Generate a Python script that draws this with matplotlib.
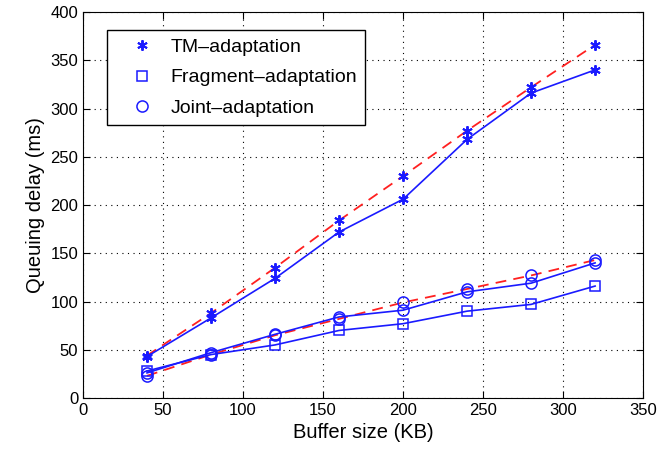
import matplotlib
matplotlib.use("Agg")
import matplotlib.pyplot as plt

buffer_kb = [40, 80, 120, 160, 200, 240, 280, 320]
tm_sim = [43, 83, 124, 172, 206, 268, 316, 340]
tm_model = [44, 88, 135, 184, 230, 277, 322, 366]
frag_sim = [28, 45, 55, 70, 77, 90, 97, 116]
joint_sim = [26, 47, 66, 84, 91, 110, 119, 140]
joint_model = [23, 45, 65, 82, 99, 113, 127, 143]

xticks = [0, 50, 100, 150, 200, 250, 300, 350]
yticks = [0, 50, 100, 150, 200, 250, 300, 350, 400]

plt.rcParams['font.family'] = ['Liberation Sans', 'DejaVu Sans']
fig = plt.figure(figsize=(6.72, 4.53), dpi=100)
ax = fig.add_axes([0.1235, 0.1214, 0.8335, 0.8521])

blue = '#1a1aff'
red = '#ff2020'
ms = 7.5
star = (6, 2, 0)
ax.plot(buffer_kb, tm_model, '--', color=red, lw=1.3, dashes=(6, 4), zorder=2)
ax.plot(buffer_kb, tm_model, ls='none', color=blue, ms=ms, mew=1.4, marker=star, zorder=3)
ax.plot(buffer_kb, joint_model, '--', color=red, lw=1.3, dashes=(6, 4), zorder=2)
ax.plot(buffer_kb, joint_model, ls='none', color=blue, marker='o', ms=ms + 0.5, mfc='none', mew=1.1, zorder=3)

ax.plot(buffer_kb, tm_sim, '-', color=blue, lw=1.2, marker=star, ms=ms, mew=1.4, zorder=3)
ax.plot(buffer_kb, frag_sim, '-', color=blue, lw=1.2, marker='s', ms=ms - 1, mfc='none', mew=1.1, zorder=3)
ax.plot(buffer_kb, joint_sim, '-', color=blue, lw=1.2, marker='o', ms=ms + 0.5, mfc='none', mew=1.1, zorder=3)

h1, = ax.plot([], [], ls='none', color=blue, marker=star, ms=ms, mew=1.4)
h2, = ax.plot([], [], ls='none', color=blue, marker='s', ms=ms - 1, mfc='none', mew=1.1)
h3, = ax.plot([], [], ls='none', color=blue, marker='o', ms=ms + 0.5, mfc='none', mew=1.1)

ax.set_xlim(0, 350)
ax.set_ylim(0, 400)
ax.set_xticks(xticks)
ax.set_yticks(yticks)
ax.tick_params(direction='in', labelsize=12, top=True, right=True, length=5)
ax.grid(True, linestyle=(0, (1, 4)), color='black', lw=0.8)
ax.set_xlabel('Buffer size (KB)', fontsize=14.5)
ax.set_ylabel('Queuing delay (ms)', fontsize=14.5)

leg = ax.legend([h1, h2, h3], ['TM\u2013adaptation', 'Fragment\u2013adaptation', 'Joint\u2013adaptation'],
                loc='upper left', bbox_to_anchor=(0.043, 0.953), borderaxespad=0, fontsize=14,
                fancybox=False, edgecolor='black', framealpha=1, borderpad=0.4,
                labelspacing=0.68, handlelength=2.8, handletextpad=0.05)
leg.get_frame().set_linewidth(1.0)

fig.savefig('out.png', dpi=100)
